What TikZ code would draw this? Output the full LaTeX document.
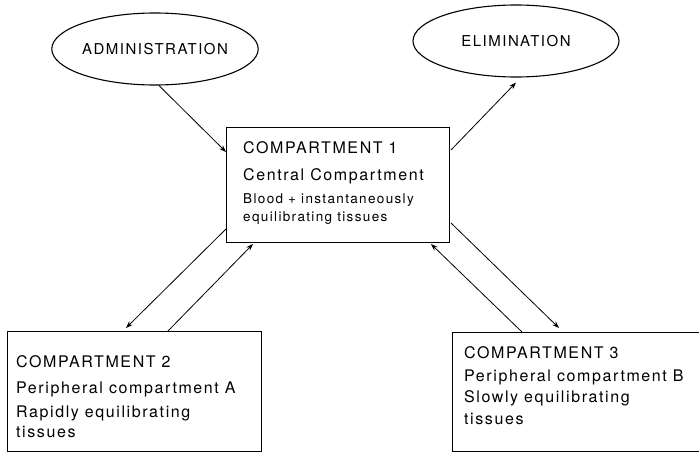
\documentclass[tikz,border=0pt]{standalone}
\usepackage{fontspec}
\setmainfont{TeX Gyre Heros}
\newfontfamily\spaced[LetterSpace=10]{TeX Gyre Heros}
\usetikzlibrary{shapes.geometric,arrows.meta,calc}
\tikzset{
  ov/.style={draw,ellipse,line width=1.1pt,inner sep=0pt,minimum width=206pt,minimum height=72pt,font=\fontsize{15}{18}\selectfont\spaced},
  cbox/.style={draw,rectangle,line width=1pt,anchor=north west,inner sep=0pt},
  txt/.style={anchor=base west,inner sep=0pt,font=\fontsize{16}{19}\selectfont\spaced},
  stxt/.style={anchor=base west,inner sep=0pt,font=\fontsize{13.5}{16}\selectfont\spaced},
  arr/.style={line width=0.8pt,-{Stealth[length=7pt,width=5pt]}}
}
\begin{document}
\begin{tikzpicture}[x=1pt,y=-1pt]
\useasboundingbox (0,0) rectangle (699,452);
\fill[white] (0,0) rectangle (699,452);
\clip (0,0) rectangle (699,452);
\node[ov] (adm) at (155,49) {ADMINISTRATION};
\node[ov] (elim) at (516,41) {ELIMINATION};
\node[cbox,minimum width=223pt,minimum height=115pt] (c1) at (226,127) {};
\node[cbox,minimum width=254pt,minimum height=120pt] (c2) at (7,331) {};
\node[cbox,minimum width=270pt,minimum height=119pt] (c3) at (452,332) {};
% texts in compartment 1
\node[txt] (c1a) at (243,153) {COMPARTMENT 1};
\node[txt] (c1b) at (243,180) {Central Compartment};
\node[stxt] (c1c) at (243,203) {Blood + instantaneously};
\node[stxt] (c1d) at (243,221) {equilibrating tissues};
% compartment 2
\node[txt] (c2a) at (16,367) {COMPARTMENT 2};
\node[txt] (c2b) at (16,393) {Peripheral compartment A};
\node[txt] (c2c) at (16,417) {Rapidly equilibrating};
\node[txt] (c2d) at (16,437) {tissues};
% compartment 3
\node[txt] (c3a) at (464,358) {COMPARTMENT 3};
\node[txt] (c3b) at (464,381) {Peripheral compartment B};
\node[txt] (c3c) at (464,402) {Slowly equilibrating};
\node[txt] (c3d) at (464,424) {tissues};
% connectors
\draw[arr] ([xshift=4pt]adm.south) -- ($(c1.north west)+(0,25)$);
\draw[arr] ($(c1.north east)+(1,23)$) -- ([yshift=-5pt]elim.south);
\draw[arr] ($(c1.south west)+(0,-14)$) -- ($(c2.north west)+(119,-3)$);
\draw[arr] ($(c2.north west)+(161,0)$) -- ($(c1.south west)+(27,1)$);
\draw[arr] ($(c1.south east)+(1,-20)$) -- ($(c3.north west)+(107,-4)$);
\draw[arr] ($(c3.north west)+(70,0)$) -- ($(c1.south east)+(-19,1)$);
\end{tikzpicture}
\end{document}
